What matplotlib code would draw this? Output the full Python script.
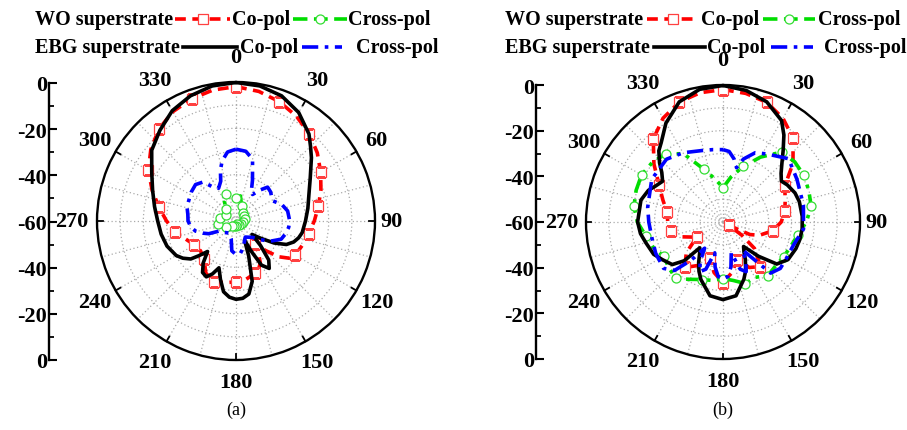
import numpy as np
import matplotlib.pyplot as plt

plt.rcParams['font.family'] = ['Liberation Serif', 'DejaVu Serif']
plt.rcParams['font.weight'] = 'bold'

# ---- (a) measured patterns, angle in degrees, gain in dB ----
a_ebg_co_ang = [0, 10, 20, 30, 40, 45, 50, 60, 70, 80, 90, 100, 105, 110, 115, 120, 125, 130,
                135, 140, 145, 150, 153, 156, 160, 165, 170, 175, 180, 185, 190, 195, 200,
                204, 208, 213, 218, 223, 227, 230, 235, 240, 250, 260, 270, 280, 290, 300,
                310, 320, 330, 340, 350]
a_ebg_co_db = [-0.2, -0.8, -2.5, -5.9, -11, -14.5, -17.5, -23, -26.5, -28.5, -30, -31, -32,
               -33.5, -36, -41, -47, -51, -45, -38, -35, -38, -45, -51, -44, -33, -28, -26.5,
               -26.2, -27, -29, -34, -38.5, -35, -32.7, -33.5, -37, -42, -38, -34.5, -32,
               -30.2, -28.3, -27.2, -26.2, -24.3, -21.7, -18, -12.5, -8.9, -5, -2.5, -0.8]

a_ebg_x_ang = [0, 8, 15, 22, 28, 32, 38, 43, 50, 61, 70, 79, 90, 97, 105, 112, 121, 128,
               135, 150, 165, 172, 180, 188, 195, 210, 225, 239, 245, 250, 256, 262, 270,
               278, 286, 293, 303, 312, 320, 327, 332, 339, 343, 347, 353]
a_ebg_x_db = [-29, -29.6, -32.4, -41, -46, -46.5, -43, -40, -40.5, -42, -39, -37.3, -36.8,
              -37.1, -38, -39, -43, -47, -50, -52, -48, -46, -45.5, -47, -52, -54, -53,
              -51.6, -47, -44.7, -42, -40.4, -39.3, -39, -38, -37.8, -37, -36.5, -38, -43,
              -44, -41.6, -37, -33.4, -30]

a_wo_co_ang = [0, 10, 20, 30, 40, 50, 60, 70, 80, 90, 100, 110, 120, 125, 130, 135, 140,
               145, 150, 155, 160, 170, 180, 190, 200, 210, 220, 230, 240, 250, 260, 270,
               280, 290, 300, 310, 320, 330, 340, 350]
a_wo_co_db = [-2, -3.2, -5.2, -7.8, -10.8, -14.2, -17.8, -21, -23.9, -26.2, -28.2, -29.5,
              -30.5, -32, -36, -42, -47, -43, -39, -37, -36, -34.5, -33.7, -33, -32, -34,
              -38.5, -40, -39.3, -37, -33.4, -30, -26.3, -21.5, -16.3, -12, -8.2, -5.5,
              -3.9, -2.6]

a_wo_x_ang = list(range(0, 360, 10))
a_wo_x_db = [-50, -49, -53, -55, -55.5, -57, -56, -57.5, -56, -57, -57, -58, -57.5, -58.5,
             -58, -59, -58.5, -59, -58, -58.5, -57.5, -58, -57, -56, -55, -53, -52, -51.5,
             -53, -54, -55, -54, -53, -50, -47.5, -49]

# ---- (b) ----
b_ebg_co_ang = [0, 10, 20, 30, 35, 40, 45, 50, 55, 60, 68, 75, 86, 95, 103, 110, 120, 128,
                134, 140, 145, 149, 155, 160, 170, 180, 190, 201, 206, 211, 217, 222, 225,
                230, 238, 245, 255, 262, 270, 285, 293, 298, 304, 309, 313, 318, 322, 330,
                340, 350]
b_ebg_co_db = [-0.2, -1.5, -4, -8.7, -13.5, -19, -23.5, -26.8, -28.8, -27.5, -26, -25.4,
               -25.2, -25.2, -25.5, -26, -27.1, -30.1, -38.4, -46, -44, -41, -36.5, -33.3,
               -27.2, -26, -27.2, -33, -36, -39.3, -43, -44.8, -36, -31, -28.8, -26.5, -25,
               -23.5, -22.6, -22.8, -24.5, -26.5, -28.1, -25.5, -22, -18, -16, -10, -4, -1]

b_ebg_x_ang = [0, 5, 10, 14, 18, 25, 33, 46, 60, 78, 95, 108, 120, 129, 137, 140, 145, 150,
               155, 160, 165, 170, 175, 180, 185, 190, 195, 200, 205, 210, 215, 220, 225,
               232, 245, 257, 270, 281, 301, 318, 330, 337, 345, 352]
b_ebg_x_db = [-28.3, -29, -32, -35.5, -31, -26.5, -24.5, -20.1, -22.6, -24, -24.6, -27.5,
              -28, -27.7, -29.4, -38, -45, -40, -36, -38, -46, -40, -36, -35, -36, -40, -46,
              -38, -36, -40, -46, -38, -30, -27, -27.5, -28.1, -27.5, -26.4, -23.6, -23,
              -25, -26.5, -27.5, -28]

b_wo_co_ang = [0, 10, 20, 30, 40, 50, 60, 70, 80, 90, 100, 110, 115, 120, 125, 130, 140,
               150, 160, 170, 180, 190, 200, 210, 220, 230, 240, 250, 260, 270, 280, 290,
               300, 310, 320, 330, 340, 350]
b_wo_co_db = [-2, -2.8, -4.2, -7.5, -12.2, -20, -28.8, -31, -32.5, -34.5, -37.9, -43, -47,
              -57, -50, -42, -34.5, -37, -42.2, -37.5, -33.5, -37.5, -43, -38, -34, -39,
              -46.7, -41, -36.7, -35.8, -35.1, -32, -27.7, -20.5, -12.5, -7.5, -4.1, -2.5]

b_wo_x_ang = list(range(0, 360, 10))
b_wo_x_db = [-45, -40, -34.1, -27.2, -20, -19, -19.1, -20, -20.8, -23.5, -26.8, -28.5,
             -29.4, -30, -29.4, -32, -31.3, -34, -35.2, -34, -33.2, -31, -27.7, -29, -30,
             -27.5, -25.6, -22.5, -20.4, -19.5, -18.8, -19.5, -21, -25.5, -35.4, -41]

angle_labels = list(range(0, 360, 30))
db_ticks = [-60, -40, -20, 0, 20, 40, 60]
db_tick_labels = ['0', '-20', '-40', '-60', '-40', '-20', '0']

W, H = 907, 431
fig = plt.figure(figsize=(W / 100, H / 100), dpi=100)

red_style = dict(color='#ff0000', lw=2.6, ls=(0, (3, 1.8)), marker='s', ms=6.5,
                 mfc='white', mec='#ff4040', mew=0.9)
green_style = dict(color='#00dd00', lw=2.6, ls=(0, (4, 1.8, 1, 1.8, 1, 1.8)), marker='o',
                   ms=6.5, mfc='white', mec='#33dd33', mew=0.9)
black_style = dict(color='black', lw=2.6, ls='-')
blue_style = dict(color='#0000ff', lw=2.6, ls=(0, (4.5, 1.8, 1, 1.8)))


def closed(ang, db):
    t = np.deg2rad(np.r_[ang, ang[0]])
    r = np.r_[db, db[0]] + 60
    return t, r


def polar_panel(cx, cy, rad, curves):
    ax = fig.add_axes([(cx - rad) / W, 1 - (cy + rad) / H, 2 * rad / W, 2 * rad / H],
                      projection='polar')
    ax.set_theta_zero_location('N')
    ax.set_theta_direction(-1)
    ax.set_rlim(0, 60)
    ax.set_xticks(np.deg2rad(np.arange(0, 360, 15)))
    ax.set_xticklabels([])
    ax.set_yticks([10, 20, 30, 40, 50])
    ax.set_yticklabels([])
    ax.grid(True, color='#aaaaaa', ls=(0, (1, 2)), lw=0.9)
    ax.spines['polar'].set_linewidth(1.7)

    # short ticks on the rim
    for a in angle_labels:
        ax.plot([np.deg2rad(a)] * 2, [57.6, 60], color='black', lw=1.3, clip_on=False)

    for ang, db, style, every in curves:
        t, r = closed(ang, db)
        kw = dict(style)
        if every is not None:
            kw['markevery'] = every
        else:
            kw.pop('marker', None)
        ax.plot(t, r, **kw)

    factors = {0: 1.18, 90: 1.12, 180: 1.16, 270: 1.18}
    for a in angle_labels:
        f = factors.get(a, 1.17)
        ax.text(np.deg2rad(a), 60 * f, str(a), ha='center', va='center',
                fontsize=16, fontweight='bold', clip_on=False)
    return ax


def db_axis(x, ytop, ybot):
    ax = fig.add_axes([x / W, 1 - ybot / H, 0.0005, (ybot - ytop) / H])
    ax.set_ylim(-60, 60)
    ax.set_xticks([])
    for s in ['top', 'right', 'bottom']:
        ax.spines[s].set_visible(False)
    ax.spines['left'].set_linewidth(1.7)
    ax.set_yticks(db_ticks)
    ax.set_yticklabels(db_tick_labels, fontsize=16, fontweight='bold')
    ax.set_yticks(np.arange(-50, 60, 20), minor=True)
    ax.tick_params(axis='y', which='major', direction='in', length=6, width=1.5, pad=1.5)
    ax.tick_params(axis='y', which='minor', direction='in', length=3.5, width=1.3)
    ax.patch.set_alpha(0)


def mark_every(ang):
    return [i for i, a in enumerate(ang) if a % 20 == 0]


polar_panel(236, 222, 139, [
    (a_wo_co_ang, a_wo_co_db, red_style, mark_every(a_wo_co_ang)),
    (a_wo_x_ang, a_wo_x_db, green_style, mark_every(a_wo_x_ang)),
    (a_ebg_co_ang, a_ebg_co_db, black_style, None),
    (a_ebg_x_ang, a_ebg_x_db, blue_style, None),
])
polar_panel(723, 223, 137, [
    (b_wo_co_ang, b_wo_co_db, red_style, mark_every(b_wo_co_ang)),
    (b_wo_x_ang, b_wo_x_db, green_style, mark_every(b_wo_x_ang)),
    (b_ebg_co_ang, b_ebg_co_db, black_style, None),
    (b_ebg_x_ang, b_ebg_x_db, blue_style, None),
])
db_axis(49, 84, 361)
db_axis(536, 86, 360)

# legend rows drawn in pixel space
lay = fig.add_axes([0, 0, 1, 1])
lay.set_xlim(0, W)
lay.set_ylim(H, 0)
lay.axis('off')
lay.patch.set_alpha(0)


def legend_row(y, x0, label, seg1, style1, x1, seg2, style2, x2):
    lay.text(x0, y, label, fontsize=14.5, fontweight='bold', va='center', ha='left')
    for (xa, xb), st in [(seg1, style1), (seg2, style2)]:
        kw = dict(st)
        kw.pop('marker', None)
        lay.plot([xa, xb], [y, y], **kw)
        if 'marker' in st:
            lay.plot([(xa + xb) / 2], [y], ls='none', marker=st['marker'], ms=st['ms'],
                     mfc='white', mec=st['mec'], mew=st['mew'])
    lay.text(x1, y, 'Co-pol', fontsize=14.5, fontweight='bold', va='center', ha='left')
    lay.text(x2, y, 'Cross-pol', fontsize=14.5, fontweight='bold', va='center', ha='left')


legend_row(20, 35, 'WO superstrate', (175, 230), red_style, 232, (293, 347), green_style, 348)
legend_row(48, 35, 'EBG superstrate', (183, 237), black_style, 240, (302, 342), blue_style, 356)
legend_row(20, 505, 'WO superstrate', (647, 699), red_style, 701, (763, 815), green_style, 818)
legend_row(48, 505, 'EBG superstrate', (654, 705), black_style, 707, (771, 813), blue_style, 824)

lay.text(236, 410, '(a)', fontsize=13, fontweight='normal', ha='center', va='center')
lay.text(723, 410, '(b)', fontsize=13, fontweight='normal', ha='center', va='center')

fig.savefig('out.png', dpi=100)
